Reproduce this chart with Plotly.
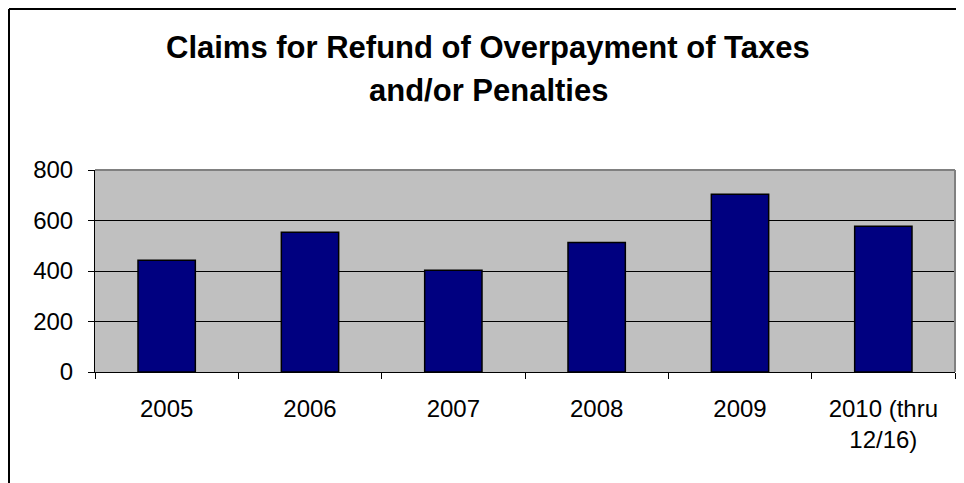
import plotly.graph_objects as go

categories = ["2005", "2006", "2007", "2008", "2009", "2010 (thru<br>12/16)"]
claims = [443, 553, 403, 513, 704, 577]
y_ticks = [0, 200, 400, 600, 800]

W, H = 964, 483
OFF = 8  # page body margin
L, T = 95 - OFF, 170 - OFF
R, B = W - (955 - OFF), H - (372 - OFF)
pw, ph = W - L - R, H - T - B


def px_x(p):
    return (p - OFF - L) / pw


def px_y(p):
    return (H - B - (p - OFF)) / ph


fig = go.Figure()
fig.add_trace(go.Bar(
    x=categories, y=claims,
    marker=dict(color="#000080", line=dict(color="black", width=1.5)),
))

font = "Liberation Sans, Arial, sans-serif"

# title (two centred lines like the original)
for text, ypix in [("Claims for Refund of Overpayment of Taxes", 48),
                   ("and/or Penalties", 90)]:
    fig.add_annotation(text=f"<b>{text}</b>", x=px_x(488), y=px_y(ypix),
                       xref="paper", yref="paper", showarrow=False,
                       xanchor="center", yanchor="middle",
                       font=dict(family=font, size=31, color="black"))

# outer chart frame (left and top edges visible)
fig.add_shape(type="line", xref="paper", yref="paper",
              x0=px_x(9), x1=px_x(9), y0=px_y(H + 20), y1=px_y(9),
              line=dict(color="black", width=2))
fig.add_shape(type="line", xref="paper", yref="paper",
              x0=px_x(9), x1=px_x(W + 20), y0=px_y(9), y1=px_y(9),
              line=dict(color="black", width=2))
# grey plot-area border top / right
fig.add_shape(type="line", xref="paper", yref="paper", x0=0, x1=1, y0=1, y1=1,
              line=dict(color="#808080", width=2))
fig.add_shape(type="line", xref="paper", yref="paper", x0=1, x1=1, y0=0, y1=1,
              line=dict(color="#808080", width=2))

fig.update_layout(
    width=W, height=H,
    margin=dict(l=L, r=R, t=T, b=B),
    paper_bgcolor="white", plot_bgcolor="#C0C0C0",
    bargap=0.6, showlegend=False,
    font=dict(family=font, size=24, color="black"),
)
fig.update_xaxes(showline=True, linecolor="black", linewidth=1,
                 ticks="outside", tickson="boundaries", ticklen=6,
                 tickcolor="black", showgrid=False, ticklabelstandoff=15,
                 tickfont=dict(size=24))
fig.update_yaxes(range=[0, 800], tickvals=y_ticks, showline=True,
                 linecolor="black", linewidth=1, ticks="outside", ticklen=6,
                 tickcolor="black", showgrid=True, gridcolor="black",
                 gridwidth=1, zeroline=False, ticklabelstandoff=10,
                 tickfont=dict(size=24))

fig.write_html("out.html")
